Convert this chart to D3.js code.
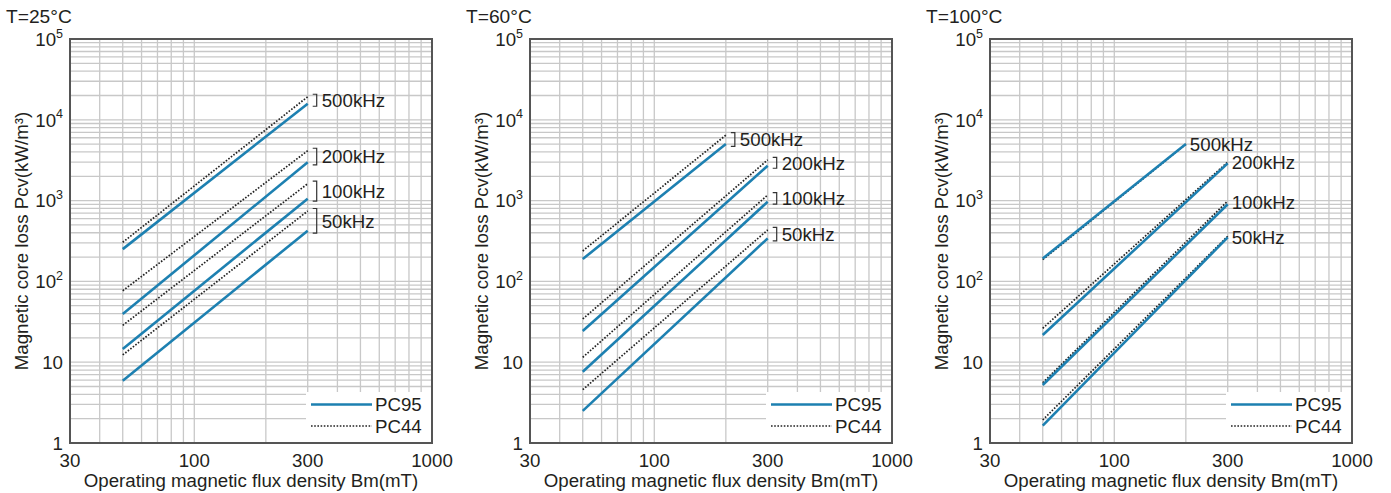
<!DOCTYPE html>
<html>
<head>
<meta charset="utf-8">
<script src="https://cdn.jsdelivr.net/npm/d3@7"></script>
<style>
  body { margin: 0; background: #fff; }
  svg text { font-family: "Liberation Sans", Arial, sans-serif; fill: #231f20; }
</style>
</head>
<body>
<div id="chart"></div>
<script>
// panel titles and frequency groups
const temps = ['T=25°C', 'T=60°C', 'T=100°C'];
const freqs = ['500kHz', '200kHz', '100kHz', '50kHz'];
const bracketed = [true, true, false];

// Bm range of each curve (mT): [start, end]
const bm25 = [[50, 300], [50, 300], [50, 300], [50, 300]];
const bm60 = [[50, 200], [50, 300], [50, 300], [50, 300]];
const bm100 = [[50, 200], [50, 300], [50, 300], [50, 300]];

// core loss Pcv (kW/m3) at start and end of each curve
const pc95_25 = [[251, 15800], [39.5, 2980], [14.6, 1057], [5.9, 424]];
const pc44_25 = [[305, 19300], [76.7, 4140], [28.6, 1618], [12.3, 743]];
const pc95_60 = [[189, 5030], [24.3, 2700], [7.6, 969], [2.5, 341]];
const pc44_60 = [[238, 6460], [34.3, 3190], [11.5, 1172], [4.57, 433]];
const pc95_100 = [[192, 5030], [21.7, 2890], [5.22, 900], [1.64, 351]];
const pc44_100 = [[186, 4980], [26.3, 3000], [5.57, 988], [1.93, 362]];

// axis ticks
const xTickVals = [30, 100, 300, 1000];
const yTickExps = [0, 1, 2, 3, 4, 5];
const materials = ['PC95', 'PC44'];

const bmSets = [bm25, bm60, bm100];
const pc95Sets = [pc95_25, pc95_60, pc95_100];
const pc44Sets = [pc44_25, pc44_60, pc44_100];

const blue = '#1d80b1';
const fs = 18.7;
const W = 1391, H = 493;
const plotW = 362, plotH = 404;
const lefts = [70, 530, 990];
const plotTop = 39;

const svg = d3.select('#chart').append('svg')
    .attr('width', W).attr('height', H);

const x = d3.scaleLog().domain([30, 1000]).range([0, plotW]);
const y = d3.scaleLog().domain([1, 1e5]).range([plotH, 0]);

temps.forEach((t, p) => {
    const g = svg.append('g').attr('transform', `translate(${lefts[p]},${plotTop})`);

    svg.append('text')
        .attr('x', lefts[p] - 64).attr('y', 23)
        .attr('font-size', 19.2)
        .text(t);

    // grid
    g.append('g').selectAll('line').data(x.ticks()).enter().append('line')
        .attr('x1', d => x(d)).attr('x2', d => x(d))
        .attr('y1', 0).attr('y2', plotH)
        .attr('stroke', '#c8c8c8').attr('stroke-width', 1.3);
    g.append('g').selectAll('line').data(y.ticks()).enter().append('line')
        .attr('y1', d => y(d)).attr('y2', d => y(d))
        .attr('x1', 0).attr('x2', plotW)
        .attr('stroke', '#c8c8c8').attr('stroke-width', 1.3);

    // legend box (covers grid)
    const lg = g.append('g').attr('transform', `translate(236,${plotH - 51})`);
    lg.append('rect').attr('width', 126).attr('height', 51).attr('fill', '#fff');
    materials.forEach((m, i) => {
        const ly = 12.5 + i * 21.5;
        lg.append('line')
            .attr('x1', 5).attr('x2', 66).attr('y1', ly).attr('y2', ly)
            .attr('stroke', i === 0 ? blue : '#222')
            .attr('stroke-width', i === 0 ? 2.6 : 1.6)
            .attr('stroke-dasharray', i === 0 ? null : '1.6,1.6');
        lg.append('text')
            .attr('x', 69).attr('y', ly).attr('dy', '0.36em')
            .attr('font-size', fs)
            .text(m);
    });

    // frame
    g.append('rect')
        .attr('width', plotW).attr('height', plotH)
        .attr('fill', 'none').attr('stroke', '#555').attr('stroke-width', 2);

    const line = d3.line().x(d => x(d[0])).y(d => y(d[1]));

    freqs.forEach((f, i) => {
        const bm = bmSets[p][i];
        const a = pc95Sets[p][i], b = pc44Sets[p][i];
        g.append('path')
            .attr('d', line([[bm[0], b[0]], [bm[1], b[1]]]))
            .attr('fill', 'none').attr('stroke', '#222')
            .attr('stroke-width', 1.7).attr('stroke-dasharray', '1.6,1.6');
        g.append('path')
            .attr('d', line([[bm[0], a[0]], [bm[1], a[1]]]))
            .attr('fill', 'none').attr('stroke', blue)
            .attr('stroke-width', 2.6);

        const ex = x(bm[1]);
        const y1 = Math.min(y(a[1]), y(b[1])) - 2.5;
        const y2 = Math.max(y(a[1]), y(b[1])) + 2.5;
        const my = (y1 + y2) / 2;
        if (bracketed[p]) {
            g.append('path')
                .attr('d', `M${ex + 5},${y1}H${ex + 9}V${y2}H${ex + 5}`)
                .attr('fill', 'none').attr('stroke', '#333').attr('stroke-width', 1.2);
        }
        g.append('text')
            .attr('x', ex + (bracketed[p] ? 14 : 4)).attr('y', my).attr('dy', '0.36em')
            .attr('font-size', fs)
            .text(f);
    });

    // x tick labels
    g.selectAll('.xt').data(xTickVals).enter().append('text')
        .attr('x', d => x(d)).attr('y', plotH + 24)
        .attr('text-anchor', 'middle').attr('font-size', fs)
        .text(d => d);

    // y tick labels
    const yt = g.selectAll('.yt').data(yTickExps).enter().append('text')
        .attr('x', -7).attr('y', d => y(Math.pow(10, d)))
        .attr('dy', '0.36em')
        .attr('text-anchor', 'end').attr('font-size', fs);
    yt.append('tspan').text(d => d === 0 ? '1' : '10');
    yt.filter(d => d > 1).append('tspan')
        .attr('font-size', 12.5).attr('dy', '-0.65em')
        .text(d => d);

    g.append('text')
        .attr('x', plotW / 2).attr('y', plotH + 44)
        .attr('text-anchor', 'middle').attr('font-size', fs)
        .text('Operating magnetic flux density Bm(mT)');

    g.append('text')
        .attr('transform', `translate(-42,${plotH / 2}) rotate(-90)`)
        .attr('text-anchor', 'middle').attr('font-size', fs)
        .text('Magnetic core loss Pcv(kW/m³)');
});
</script>
</body>
</html>
